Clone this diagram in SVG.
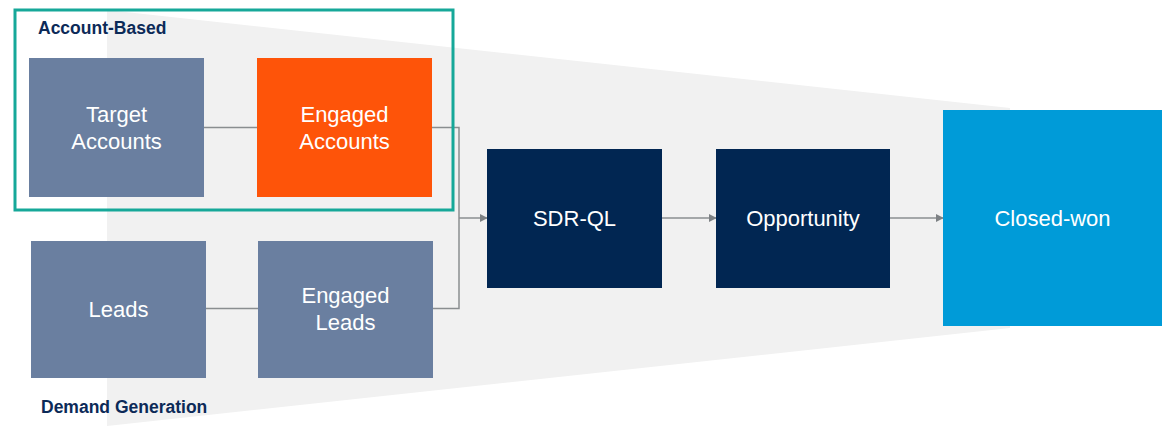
<svg xmlns="http://www.w3.org/2000/svg" width="1167" height="426" viewBox="0 0 1167 426">
  <style>
    .node-label { font-family: "Liberation Sans", Arial, sans-serif; font-size: 22px; fill: #ffffff; text-anchor: middle; }
    .group-label { font-family: "Liberation Sans", Arial, sans-serif; font-size: 17.5px; font-weight: bold; fill: #0c2a58; }
    .stage { fill: #6a7fa0; }
    .link { fill: none; stroke: #8a8e90; stroke-width: 1.5; }
  </style>
  <defs>
    <marker id="arrow" viewBox="0 0 10 10" refX="9" refY="5" markerWidth="8" markerHeight="8" markerUnits="userSpaceOnUse" orient="auto">
      <path d="M0,0 L10,5 L0,10 z" fill="#7d8184"/>
    </marker>
  </defs>

  <rect width="1167" height="426" fill="#ffffff"/>

  <!-- funnel backdrop -->
  <polygon id="funnel" points="107,10 1010,108 1010,328 107,426" fill="#f1f1f1"/>

  <!-- connectors -->
  <g id="connectors">
    <line class="link" x1="204" y1="127.5" x2="257" y2="127.5"/>
    <line class="link" x1="206" y1="308.5" x2="258" y2="308.5"/>
    <polyline class="link" points="432,127.5 459,127.5 459,308.5 433,308.5"/>
    <line class="link" x1="459" y1="218" x2="487" y2="218" marker-end="url(#arrow)"/>
    <line class="link" x1="662" y1="218" x2="716" y2="218" marker-end="url(#arrow)"/>
    <line class="link" x1="890" y1="218" x2="943" y2="218" marker-end="url(#arrow)"/>
  </g>

  <g id="target-accounts">
    <rect class="stage" x="29" y="58" width="175" height="139"/>
    <text class="node-label" x="116.5" y="122">Target</text>
    <text class="node-label" x="116.5" y="149">Accounts</text>
  </g>

  <g id="engaged-accounts">
    <rect x="257" y="58" width="175" height="139" fill="#fe5409"/>
    <text class="node-label" x="344.5" y="122">Engaged</text>
    <text class="node-label" x="344.5" y="149">Accounts</text>
  </g>

  <g id="leads">
    <rect class="stage" x="31" y="241" width="175" height="137"/>
    <text class="node-label" x="118.5" y="317">Leads</text>
  </g>

  <g id="engaged-leads">
    <rect class="stage" x="258" y="241" width="175" height="137"/>
    <text class="node-label" x="345.5" y="303">Engaged</text>
    <text class="node-label" x="345.5" y="330">Leads</text>
  </g>

  <g id="sdr-ql">
    <rect x="487" y="149" width="175" height="139" fill="#012652"/>
    <text class="node-label" x="574.5" y="226">SDR-QL</text>
  </g>

  <g id="opportunity">
    <rect x="716" y="149" width="174" height="139" fill="#012652"/>
    <text class="node-label" x="803" y="226">Opportunity</text>
  </g>

  <g id="closed-won">
    <rect x="943" y="110" width="219" height="216" fill="#009bd8"/>
    <text class="node-label" x="1052.5" y="226">Closed-won</text>
  </g>

  <g id="account-based">
    <rect x="15" y="10" width="438" height="200" fill="none" stroke="#16a899" stroke-width="3"/>
    <text class="group-label" x="38" y="34">Account-Based</text>
  </g>

  <g id="demand-generation">
    <text class="group-label" x="41" y="413">Demand Generation</text>
  </g>
</svg>
